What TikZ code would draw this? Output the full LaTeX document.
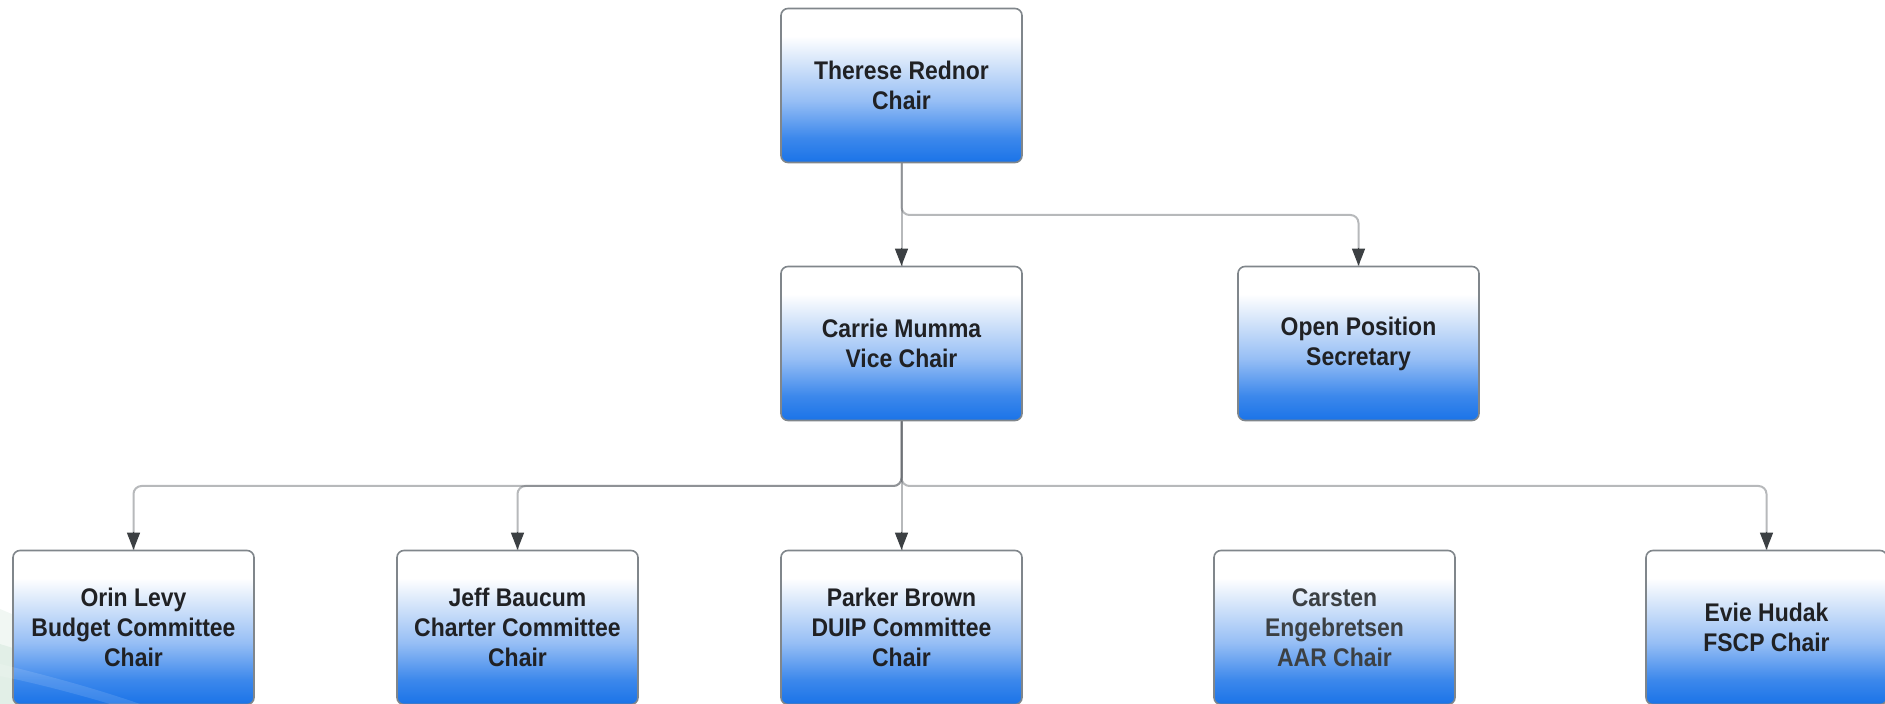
\documentclass[tikz,border=0pt]{standalone}
\usepackage{fontspec}
\newfontfamily\boxfont{Liberation Sans}[FakeStretch=0.9]
\usetikzlibrary{arrows.meta}
\definecolor{bblue}{RGB}{26,115,232}
\definecolor{bmid}{RGB}{150,190,245}
\definecolor{blight}{RGB}{215,230,250}
\definecolor{boxgray}{RGB}{128,134,139}
\definecolor{linegray}{RGB}{95,99,104}
\definecolor{tipgray}{RGB}{60,64,67}
\definecolor{txt}{RGB}{32,33,36}
\definecolor{txtgray}{RGB}{60,64,67}
\definecolor{swoosh}{RGB}{120,180,140}
\pgfdeclareverticalshading{boxgrad}{100bp}{color(0bp)=(bblue); color(25bp)=(bblue); color(33bp)=(bblue!85!white); color(45bp)=(bmid); color(58bp)=(blight); color(66bp)=(white); color(100bp)=(white)}
\tikzset{
  orgbox/.style={draw=boxgray, line width=1.6pt, rounded corners=7pt, shading=boxgrad,
    minimum width=241pt, minimum height=154pt, inner sep=0pt, align=center,
    font=\boxfont\bfseries\fontsize{25.5}{30}\selectfont, text=txt},
  conn/.style={draw=linegray, draw opacity=0.45, line width=2pt, rounded corners=8pt},
  tipline/.style={draw=tipgray, line width=1.2pt, -{Triangle[length=17pt,width=13pt]}, fill=tipgray}
}
\begin{document}
\begin{tikzpicture}[x=1pt,y=1pt]
\useasboundingbox (0,0) rectangle (1885,704);
% background swoosh
\fill[swoosh, opacity=0.10] (0,95) .. controls (60,70) and (140,30) .. (230,0) -- (0,0) -- cycle;
\fill[swoosh, opacity=0.12] (0,60) .. controls (50,45) and (100,25) .. (160,0) -- (0,0) -- cycle;
% nodes
\node[orgbox] (chair) at (901.5,618.5) {Therese Rednor\\Chair};
\node[orgbox] (vice) at (901.5,360.5) {Carrie Mumma\\Vice Chair};
\node[orgbox] (sec) at (1358.5,360.5) {Open Position\\Secretary};
\node[orgbox] (orin) at (133.5,76.5) {Orin Levy\\Budget Committee\\Chair};
\node[orgbox] (jeff) at (517.5,76.5) {Jeff Baucum\\Charter Committee\\Chair};
\node[orgbox] (parker) at (901.5,76.5) {Parker Brown\\DUIP Committee\\Chair};
\node[orgbox, text=txtgray] (carsten) at (1334.5,76.5) {Carsten\\Engebretsen\\AAR Chair};
\node[orgbox] (evie) at (1766.5,76.5) {Evie Hudak\\FSCP Chair};
% light streaks over bottom-left
\fill[white, opacity=0.12] (0,40) .. controls (50,28) and (100,14) .. (140,0) -- (110,0) .. controls (70,12) and (30,22) .. (0,28) -- cycle;
% junction coordinates
\coordinate (jA) at (0,489);
\coordinate (jB) at (0,218);
% connectors
\draw[conn] (chair.south) -- (vice.north);
\draw[conn] (chair.south) -- (chair.south |- jA) -- (sec.north |- jA) -- (sec.north);
\draw[conn] (vice.south) -- (vice.south |- jB) -- (orin.north |- jB) -- (orin.north);
\draw[conn] (vice.south) -- (vice.south |- jB) -- (jeff.north |- jB) -- (jeff.north);
\draw[conn] (vice.south) -- (parker.north);
\draw[conn] (vice.south) -- (vice.south |- jB) -- (evie.north |- jB) -- (evie.north);
% arrow tips
\foreach \t in {vice,sec,orin,jeff,parker,evie}
  \draw[tipline] ([yshift=18pt]\t.north) -- (\t.north);
\end{tikzpicture}
\end{document}
